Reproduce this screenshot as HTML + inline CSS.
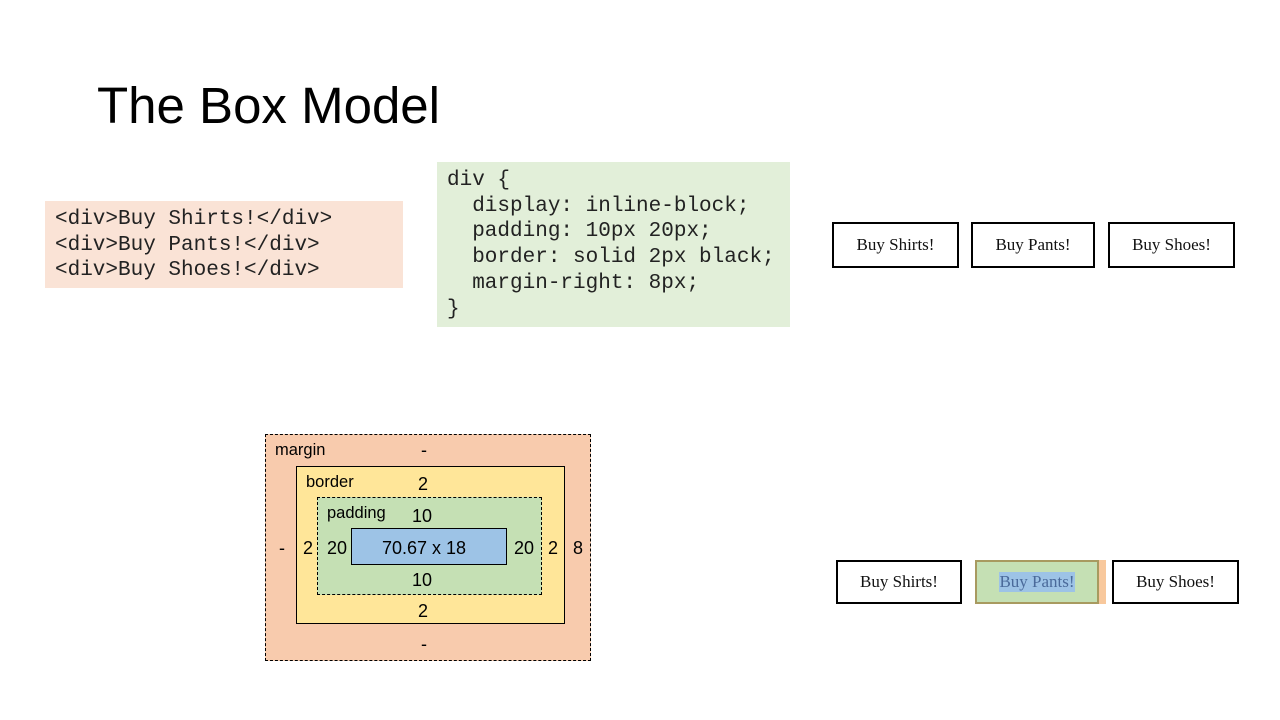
<!DOCTYPE html>
<html><head><meta charset="utf-8"><style>
body{margin:0;width:1280px;height:720px;background:#fff;position:relative;overflow:hidden;font-family:"Liberation Sans",sans-serif}
.a{position:absolute;box-sizing:border-box}
.mono{font-family:"Liberation Mono",monospace;font-size:21px;line-height:25.7px;white-space:pre;color:#222}
.btn{position:absolute;box-sizing:border-box;border:2px solid #000;font-family:"Liberation Serif",serif;font-size:17px;display:flex;align-items:center;justify-content:center;color:#111}
.t{position:absolute;font-family:"Liberation Sans",sans-serif;font-size:18px;color:#000;transform:translateX(-50%);line-height:1}
</style></head><body>
<div class="a" style="left:97px;top:74px;font-size:51px;line-height:64px;color:#000">The Box Model</div>

<div class="a mono" style="left:45px;top:201px;width:358px;height:87px;background:#fae3d6;padding:6px 0 0 10px">&lt;div&gt;Buy Shirts!&lt;/div&gt;
&lt;div&gt;Buy Pants!&lt;/div&gt;
&lt;div&gt;Buy Shoes!&lt;/div&gt;</div>

<div class="a mono" style="left:437px;top:162px;width:353px;height:165px;background:#e2efd9;padding:6px 0 0 10px">div {
  display: inline-block;
  padding: 10px 20px;
  border: solid 2px black;
  margin-right: 8px;
}</div>

<div class="btn" style="left:832px;top:222px;width:127px;height:46px">Buy Shirts!</div>
<div class="btn" style="left:971px;top:222px;width:124px;height:46px">Buy Pants!</div>
<div class="btn" style="left:1108px;top:222px;width:127px;height:46px">Buy Shoes!</div>

<div class="btn" style="left:836px;top:560px;width:126px;height:44px">Buy Shirts!</div>
<div class="a" style="left:1097px;top:560px;width:9px;height:44px;background:#f8c89c"></div>
<div class="btn" style="left:975px;top:560px;width:124px;height:44px;background:#c5e0b4;border-color:#a89a60;color:#4a6a9a"><span style="background:#9dc3e6">Buy Pants!</span></div>
<div class="btn" style="left:1112px;top:560px;width:127px;height:44px">Buy Shoes!</div>

<div class="a" style="left:265px;top:434px;width:326px;height:227px;background:#f8cbad;border:1px dashed #000"></div>
<div class="a" style="left:296px;top:466px;width:269px;height:158px;background:#ffe699;border:1px solid #000"></div>
<div class="a" style="left:317px;top:497px;width:225px;height:98px;background:#c5e0b4;border:1px dashed #000"></div>
<div class="a" style="left:351px;top:528px;width:156px;height:37px;background:#9dc3e6;border:1px solid #000"></div>

<div class="a" style="left:275px;top:441px;font-size:16.5px">margin</div>
<div class="a" style="left:306px;top:473px;font-size:16.5px">border</div>
<div class="a" style="left:327px;top:504px;font-size:16.5px">padding</div>
<div class="t" style="left:424px;top:441px">-</div>
<div class="t" style="left:423px;top:475px">2</div>
<div class="t" style="left:422px;top:507px">10</div>
<div class="t" style="left:424px;top:539px">70.67 x 18</div>
<div class="t" style="left:422px;top:571px">10</div>
<div class="t" style="left:423px;top:602px">2</div>
<div class="t" style="left:424px;top:635px">-</div>
<div class="t" style="left:282px;top:539px">-</div>
<div class="t" style="left:308px;top:539px">2</div>
<div class="t" style="left:337px;top:539px">20</div>
<div class="t" style="left:524px;top:539px">20</div>
<div class="t" style="left:553px;top:539px">2</div>
<div class="t" style="left:578px;top:539px">8</div>
</body></html>
